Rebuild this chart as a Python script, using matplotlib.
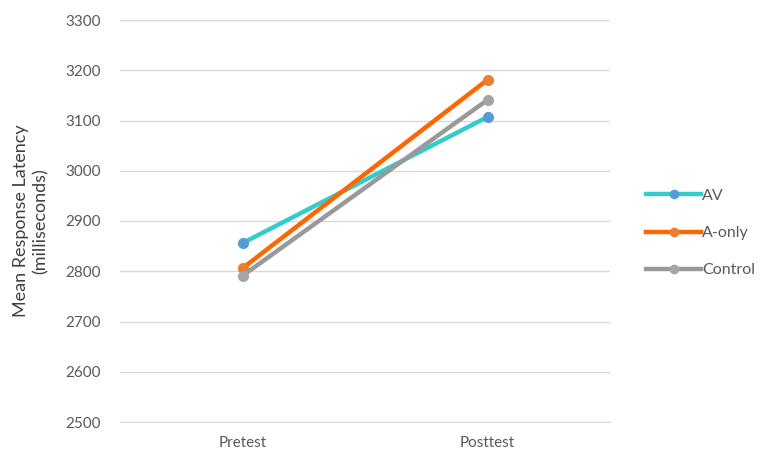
import numpy as np
import matplotlib
matplotlib.use("Agg")
import matplotlib.pyplot as plt

plt.rcParams["font.family"] = ["Lato", "DejaVu Sans"]

# ==========================
# Data
# ==========================

phases = ["Pretest", "Posttest"]
groups = ["AV", "A-only", "Control"]

av = [2856, 3107]
a_only = [2806, 3181]
control = [2791, 3141]

line_colors = ["#33CCCC", "#FF6600", "#999999"]
marker_colors = ["#5B9BD5", "#ED7D31", "#A5A5A5"]

# ==========================
# Plot
# ==========================

fig = plt.figure(figsize=(7.61, 4.55), dpi=100)
ax = fig.add_axes([120 / 761, 1 - 422 / 455, 490 / 761, 402 / 455])

x = np.arange(len(phases))
handles = []
for vals, name, lc, mc in zip([av, a_only, control], groups, line_colors, marker_colors):
    h, = ax.plot(
        x, vals,
        color=lc,
        linewidth=3.2,
        marker="o",
        markersize=7,
        markerfacecolor=mc,
        markeredgecolor=mc,
        label=name,
        zorder=3
    )
    handles.append(h)

ax.set_xlim(-0.5, 1.5)
ax.set_ylim(2500, 3300)
ax.set_yticks(np.arange(2500, 3301, 100))
ax.set_xticks(x)
ax.set_xticklabels(phases)

ax.grid(axis="y", color="#D9D9D9", linewidth=1)
ax.set_axisbelow(True)
for side in ["top", "right", "left"]:
    ax.spines[side].set_visible(False)
ax.spines["bottom"].set_color("#D9D9D9")

ax.tick_params(axis="both", length=0, labelsize=11, labelcolor="#595959")
ax.tick_params(axis="y", pad=14)
ax.tick_params(axis="x", pad=10)

ax.set_ylabel(
    "Mean Response Latency\n(milliseconds)",
    fontsize=13, color="#404040", labelpad=12, linespacing=1.25
)

leg = ax.legend(
    handles=handles,
    loc="center left",
    bbox_to_anchor=(1.045, 0.47),
    frameon=False,
    fontsize=11.5,
    labelcolor="#595959",
    handlelength=3.4,
    handletextpad=0.1,
    labelspacing=1.45,
    markerscale=0.85
)

fig.savefig("out.png", dpi=100)
